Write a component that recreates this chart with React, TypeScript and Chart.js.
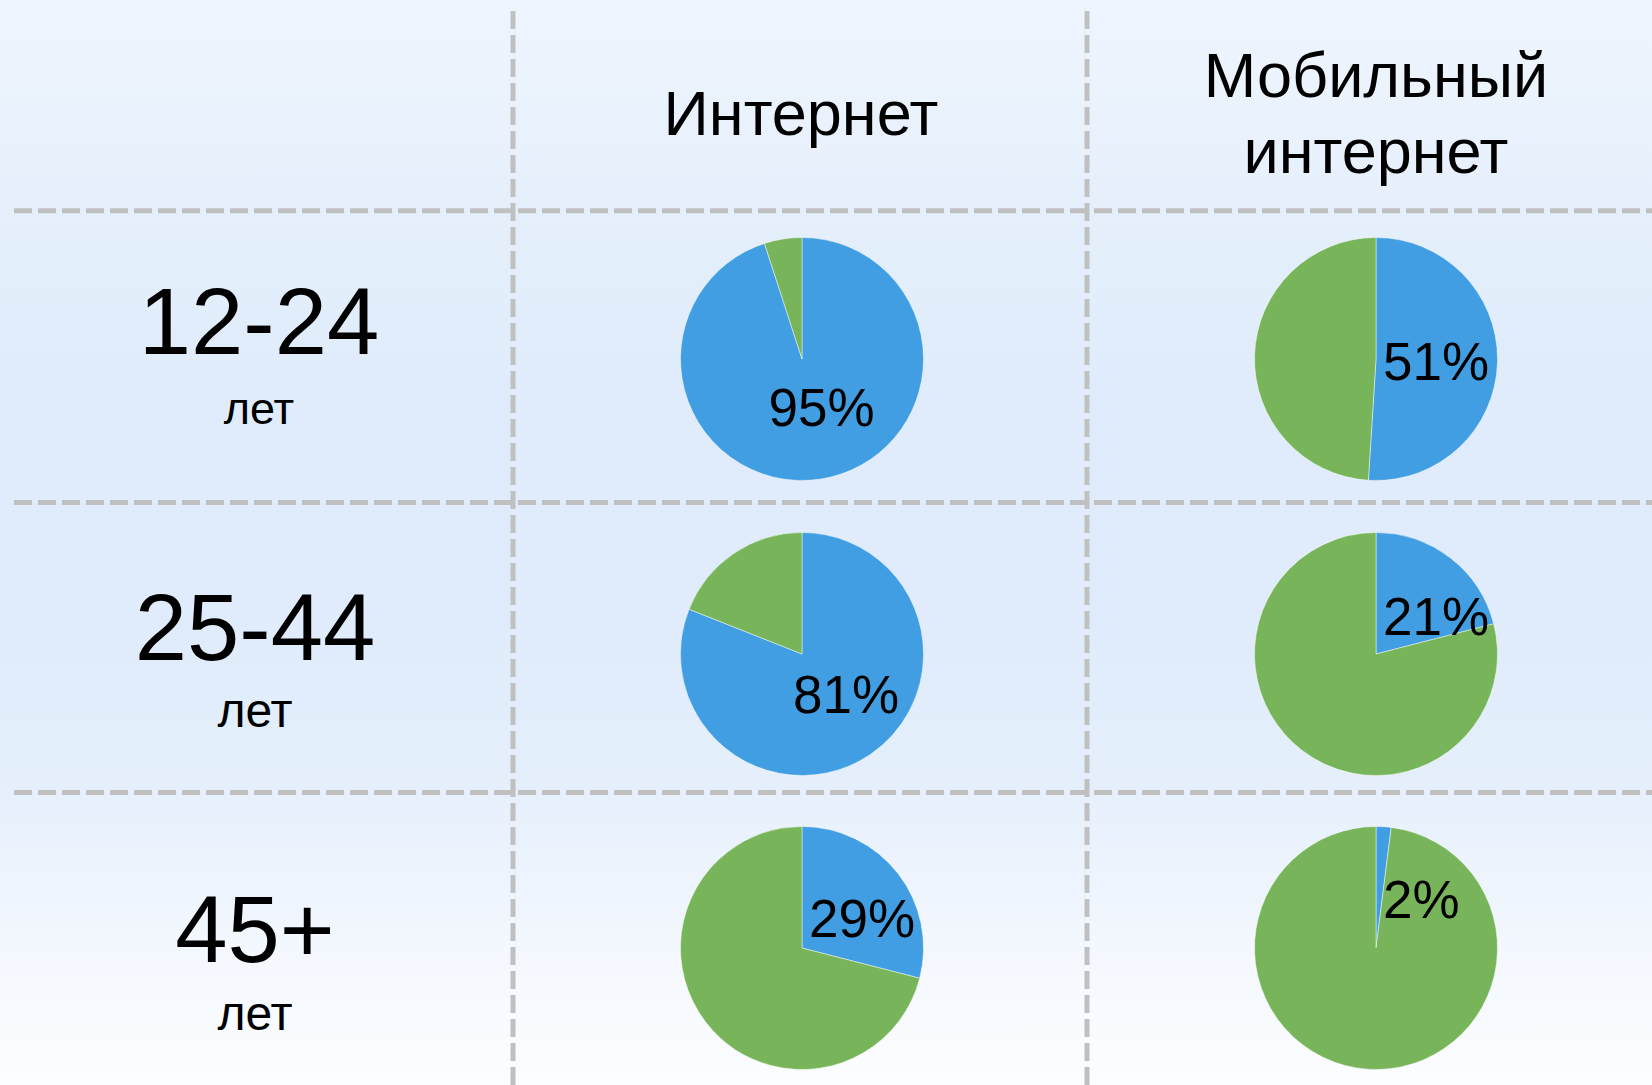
import React, { useEffect, useRef } from "react";
import { Chart, registerables } from "chart.js";

Chart.register(...registerables);

// ---- data ----
const ageGroups = ["12-24", "25-44", "45+"];
const ageUnit = "лет";
const columnHeaders = [["Интернет"], ["Мобильный", "интернет"]];
const internetShare = [95, 81, 29];
const mobileShare = [51, 21, 2];
const sliceLabels = ["Да", "Нет"];

// ---- styles / layout ----
const BLUE = "#419ee2";
const GREEN = "#78b55a";
const FONT = '"Liberation Sans", Arial, "DejaVu Sans", sans-serif';
const W = 1652;
const H = 1085;
const colCenters = [802, 1375.7];
const rowCenters = [358.7, 653.5, 948];
const vLines = [513, 1087];
const hLines = [210.7, 502.5, 792.5];
const headerLayout = [
  { x: 801, baselines: [135], size: 63 },
  { x: 1376, baselines: [97, 173], size: 63 },
];
const rowLabelLayout = [
  { x: 259, base: 355, size: 94, unitBase: 424, unitSize: 45 },
  { x: 255, base: 661, size: 94, unitBase: 727.5, unitSize: 48 },
  { x: 255, base: 963, size: 94, unitBase: 1031, unitSize: 48 },
];
const PIE_BOX = 300;
const PIE_PAD = 28;
const LABEL_SIZE = 53;

const labelPlugin = {
  id: "pctLabel",
  afterDatasetsDraw(chart: any) {
    const meta = chart.getDatasetMeta(0);
    const arc = meta.data[0];
    if (!arc) return;
    const { x, y, startAngle, endAngle, outerRadius } = arc.getProps(
      ["x", "y", "startAngle", "endAngle", "outerRadius"],
      true
    );
    const value = chart.data.datasets[0].data[0];
    const text = `${value}%`;
    const ctx = chart.ctx;
    ctx.save();
    ctx.font = `${LABEL_SIZE}px ${FONT}`;
    const w = ctx.measureText(text).width;
    const h = LABEL_SIZE * 0.716;
    const mid = (startAngle + endAngle) / 2;
    const R = outerRadius;
    const px = Math.cos(mid) * 0.5 * R + 10;
    const py = Math.sin(mid) * 0.4 * R;
    let left = px - w / 2;
    const top = py - h / 2;
    if (top < 0) left = Math.max(left, 7);
    const maxRight = Math.sqrt(Math.max(R * R - py * py, 0)) - 9;
    if (left + w > maxRight) left = Math.max(maxRight - w, 7);
    ctx.fillStyle = "#000";
    ctx.textAlign = "left";
    ctx.textBaseline = "alphabetic";
    ctx.fillText(text, x + left, y + py + h / 2);
    ctx.restore();
  },
};

function Pie({ value, cx, cy }: { value: number; cx: number; cy: number }) {
  const ref = useRef<HTMLCanvasElement>(null);
  useEffect(() => {
    if (!ref.current) return;
    const chart = new Chart(ref.current, {
      type: "pie",
      data: {
        labels: sliceLabels,
        datasets: [
          {
            data: [value, 100 - value],
            backgroundColor: [BLUE, GREEN],
            borderColor: "rgba(255,255,255,0.45)",
            borderWidth: 1,
          },
        ],
      },
      options: {
        responsive: false,
        animation: false,
        layout: { padding: PIE_PAD },
        plugins: {
          legend: { display: false },
          tooltip: { enabled: false },
          title: { display: false },
        },
      },
      plugins: [labelPlugin],
    });
    return () => chart.destroy();
  }, [value]);
  return (
    <canvas
      ref={ref}
      width={PIE_BOX}
      height={PIE_BOX}
      style={{
        position: "absolute",
        left: cx - PIE_BOX / 2,
        top: cy - PIE_BOX / 2,
        width: PIE_BOX,
        height: PIE_BOX,
      }}
    />
  );
}

function BaselineText({
  text,
  x,
  baseline,
  size,
}: {
  text: string;
  x: number;
  baseline: number;
  size: number;
}) {
  return (
    <div
      style={{
        position: "absolute",
        left: x,
        top: baseline - 0.8465 * size,
        transform: "translateX(-50%)",
        fontFamily: FONT,
        fontSize: size,
        lineHeight: 1,
        whiteSpace: "nowrap",
        color: "#000",
      }}
    >
      {text}
    </div>
  );
}

export default function App() {
  const series = [internetShare, mobileShare];
  return (
    <div
      style={{
        position: "fixed",
        left: 0,
        top: 0,
        width: W,
        height: H,
        overflow: "hidden",
        background:
          "linear-gradient(to bottom, #eff5fd 0%, #e6f0fc 18%, #e0ecfb 35%, #e0ecfb 58%, #e5effc 72%, #f4f8fe 88%, #fcfdff 100%)",
      }}
    >
      <svg
        width={W}
        height={H}
        style={{ position: "absolute", left: 0, top: 0 }}
      >
        {hLines.map((y, i) => (
          <line
            key={"h" + i}
            x1={14}
            x2={W}
            y1={y}
            y2={y}
            stroke="#c0c0c0"
            strokeWidth={5}
            strokeDasharray="18 6"
          />
        ))}
        {vLines.map((x, i) => (
          <line
            key={"v" + i}
            x1={x}
            x2={x}
            y1={11}
            y2={H}
            stroke="#c0c0c0"
            strokeWidth={5}
            strokeDasharray="18 6"
          />
        ))}
      </svg>
      {columnHeaders.map((lines, c) =>
        lines.map((t, k) => (
          <BaselineText
            key={`hd${c}-${k}`}
            text={t}
            x={headerLayout[c].x}
            baseline={headerLayout[c].baselines[k]}
            size={headerLayout[c].size}
          />
        ))
      )}
      {ageGroups.map((g, r) => (
        <React.Fragment key={"row" + r}>
          <BaselineText
            text={g}
            x={rowLabelLayout[r].x}
            baseline={rowLabelLayout[r].base}
            size={rowLabelLayout[r].size}
          />
          <BaselineText
            text={ageUnit}
            x={rowLabelLayout[r].x}
            baseline={rowLabelLayout[r].unitBase}
            size={rowLabelLayout[r].unitSize}
          />
        </React.Fragment>
      ))}
      {series.map((vals, c) =>
        vals.map((v, r) => (
          <Pie
            key={`p${c}-${r}`}
            value={v}
            cx={colCenters[c]}
            cy={rowCenters[r]}
          />
        ))
      )}
    </div>
  );
}
